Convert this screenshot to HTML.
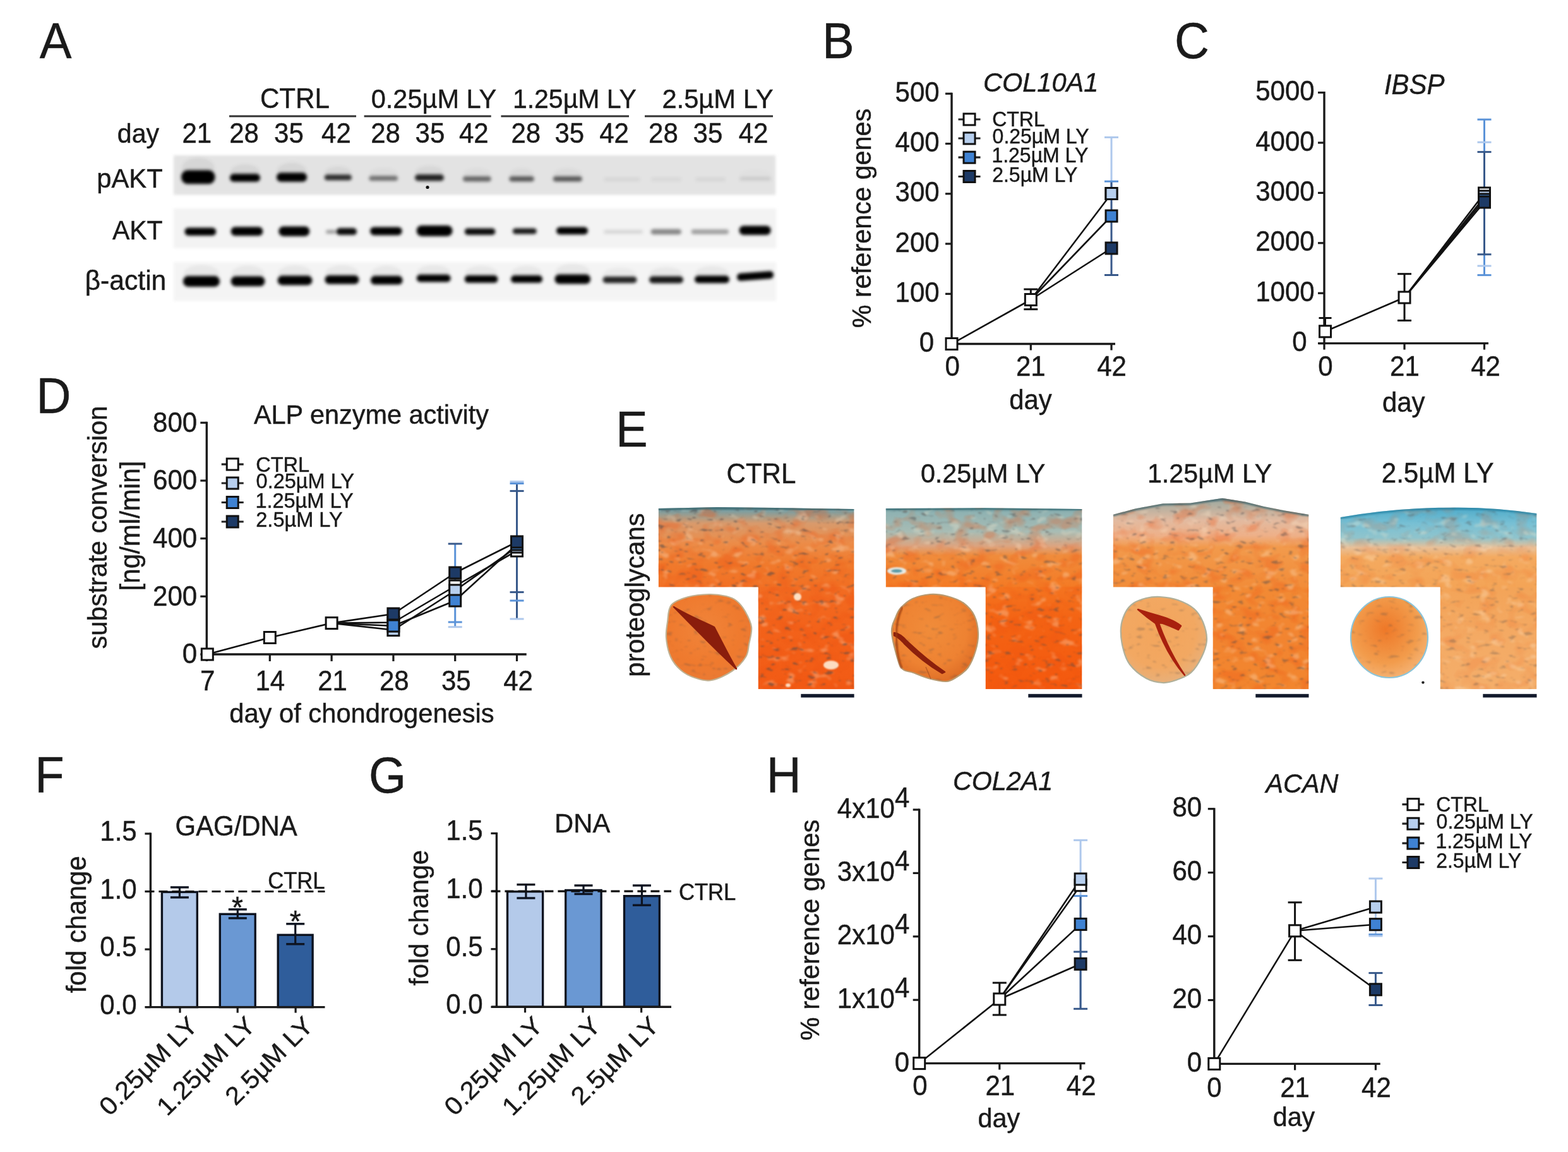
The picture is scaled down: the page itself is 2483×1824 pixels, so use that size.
<!DOCTYPE html>
<html><head><meta charset="utf-8"><title>Figure</title>
<style>html,body{margin:0;padding:0;background:#fff;}svg{display:block;} text{stroke:#1a1a1a;stroke-width:0.45px;}</style></head>
<body><svg width="2483" height="1824" viewBox="0 0 2483 1824" font-family='"Liberation Sans", Arial, sans-serif'>
<defs>
<filter id="bandblur" x="-20%" y="-60%" width="140%" height="220%"><feGaussianBlur stdDeviation="2.6"/></filter>
<filter id="stripblur" x="-5%" y="-20%" width="110%" height="140%"><feGaussianBlur stdDeviation="2"/></filter>
<filter id="specks" x="0" y="0" width="100%" height="100%" color-interpolation-filters="sRGB">
<feTurbulence type="fractalNoise" baseFrequency="0.075 0.16" numOctaves="2" seed="7" result="n"/>
<feColorMatrix in="n" type="matrix" values="0 0 0 0 0.32  0 0 0 0 0.30  0 0 0 0 0.30  -7 0 0 0 2.55"/>
<feGaussianBlur stdDeviation="1.1"/>
</filter>
<filter id="light" x="0" y="0" width="100%" height="100%" color-interpolation-filters="sRGB">
<feTurbulence type="fractalNoise" baseFrequency="0.05 0.08" numOctaves="2" seed="21" result="n"/>
<feColorMatrix in="n" type="matrix" values="0 0 0 0 1  0 0 0 0 0.93  0 0 0 0 0.82  6 0 0 0 -3.55"/>
<feGaussianBlur stdDeviation="1.5"/>
</filter>
<filter id="blotch" x="0" y="0" width="100%" height="100%" color-interpolation-filters="sRGB">
<feTurbulence type="fractalNoise" baseFrequency="0.035 0.05" numOctaves="2" seed="4" result="n"/>
<feColorMatrix in="n" type="matrix" values="0 0 0 0 0.93  0 0 0 0 0.33  0 0 0 0 0.08  4 0 0 0 -1.9"/>
</filter>
<filter id="soft"><feGaussianBlur stdDeviation="0.8"/></filter>
<linearGradient id="hg0" x1="0" y1="0" x2="0" y2="1"><stop offset="0" stop-color="#4f7f88"/><stop offset="0.05" stop-color="#7d9ea0"/><stop offset="0.2" stop-color="#d89a6c"/><stop offset="0.45" stop-color="#ec8c48"/><stop offset="0.7" stop-color="#f07a2c"/><stop offset="1" stop-color="#f27024"/></linearGradient>
<linearGradient id="hl0" x1="0" y1="0" x2="0" y2="1"><stop offset="0" stop-color="#f26c22"/><stop offset="0.4" stop-color="#f3621a"/><stop offset="1" stop-color="#f25a14"/></linearGradient>
<radialGradient id="hp0" cx="0.45" cy="0.4" r="0.6"><stop offset="0" stop-color="#f0843a"/><stop offset="0.7" stop-color="#ef7a2e"/><stop offset="1" stop-color="#ea7a34"/></radialGradient>
<clipPath id="hc0"><path d="M1042.6,929.5 L1042.6,805.0 L1135.6,803.0 L1228.6,804.0 L1352.6,806.0 L1352.6,1091.2 L1200.5,1091.2 L1200.5,929.5 Z"/></clipPath>
<linearGradient id="hg1" x1="0" y1="0" x2="0" y2="1"><stop offset="0" stop-color="#5f8f94"/><stop offset="0.06" stop-color="#8fb2b2"/><stop offset="0.3" stop-color="#a8bcb4"/><stop offset="0.48" stop-color="#dca480"/><stop offset="0.6" stop-color="#f08c3c"/><stop offset="1" stop-color="#f47a24"/></linearGradient>
<linearGradient id="hl1" x1="0" y1="0" x2="0" y2="1"><stop offset="0" stop-color="#f47420"/><stop offset="0.3" stop-color="#f46414"/><stop offset="1" stop-color="#f4580e"/></linearGradient>
<radialGradient id="hp1" cx="0.45" cy="0.4" r="0.6"><stop offset="0" stop-color="#f08c3a"/><stop offset="0.7" stop-color="#ee8232"/><stop offset="1" stop-color="#e07028"/></radialGradient>
<clipPath id="hc1"><path d="M1402.6,929.5 L1402.6,805.0 L1558.0,804.0 L1713.5,806.0 L1713.5,1091.2 L1560.5,1091.2 L1560.5,929.5 Z"/></clipPath>
<linearGradient id="hg2" x1="0" y1="0" x2="0" y2="1"><stop offset="0" stop-color="#587880"/><stop offset="0.05" stop-color="#a8aca0"/><stop offset="0.25" stop-color="#e2baa0"/><stop offset="0.42" stop-color="#eeb088"/><stop offset="0.55" stop-color="#f29a4c"/><stop offset="1" stop-color="#f28c38"/></linearGradient>
<linearGradient id="hl2" x1="0" y1="0" x2="0" y2="1"><stop offset="0" stop-color="#f28a34"/><stop offset="0.5" stop-color="#f28430"/><stop offset="1" stop-color="#f2862e"/></linearGradient>
<radialGradient id="hp2" cx="0.45" cy="0.4" r="0.6"><stop offset="0" stop-color="#f3a55c"/><stop offset="0.7" stop-color="#f2a862"/><stop offset="1" stop-color="#e8b07a"/></radialGradient>
<clipPath id="hc2"><path d="M1762.6,929.5 L1762.6,814.7 L1798.2,805.3 L1841.6,797.3 L1885.0,796.6 L1935.5,788.7 L1971.8,794.5 L2000.6,801.7 L2029.7,807.5 L2072.5,814.7 L2072.5,1091.2 L1920.5,1091.2 L1920.5,929.5 Z"/></clipPath>
<linearGradient id="hg3" x1="0" y1="0" x2="0" y2="1"><stop offset="0" stop-color="#3f98b8"/><stop offset="0.05" stop-color="#58b0cc"/><stop offset="0.2" stop-color="#78c0d4"/><stop offset="0.38" stop-color="#90c4cc"/><stop offset="0.5" stop-color="#e8c098"/><stop offset="0.62" stop-color="#f4aa60"/><stop offset="1" stop-color="#f4a456"/></linearGradient>
<linearGradient id="hl3" x1="0" y1="0" x2="0" y2="1"><stop offset="0" stop-color="#f3a458"/><stop offset="0.5" stop-color="#f4aa64"/><stop offset="1" stop-color="#f4ae6a"/></linearGradient>
<radialGradient id="hp3" cx="0.45" cy="0.4" r="0.6"><stop offset="0" stop-color="#ee7828"/><stop offset="0.7" stop-color="#f29c4c"/><stop offset="1" stop-color="#f4b070"/></radialGradient>
<clipPath id="hc3"><path d="M2122.6,929.5 L2122.6,819.0 L2153.7,814.0 L2184.8,810.0 L2215.9,807.0 L2247.0,805.0 L2278.1,803.8 L2309.1,803.6 L2340.2,804.2 L2371.3,806.0 L2402.4,809.0 L2433.5,813.0 L2433.5,1091.2 L2280.5,1091.2 L2280.5,929.5 Z"/></clipPath>
</defs>
<rect width="2483" height="1824" fill="#fff"/>
<g filter="url(#stripblur)">
<rect x="275" y="246" width="953" height="62.5" fill="#e3e3e3"/>
<rect x="275" y="330" width="954" height="63" fill="#f3f3f3"/>
<rect x="275" y="415" width="954" height="61.5" fill="#f4f4f4"/>
</g>
<g filter="url(#bandblur)"><ellipse cx="313.8" cy="265.9" rx="25.8" ry="16.4" fill="#000" fill-opacity="0.06"/><rect x="287.0" y="269.4" width="53.5" height="21.8" rx="10.3" fill="#050505" fill-opacity="1.0"/><ellipse cx="388.0" cy="271.8" rx="23.0" ry="11.7" fill="#000" fill-opacity="0.06"/><rect x="364.0" y="275.3" width="48.0" height="12.4" rx="6.0" fill="#050505" fill-opacity="1.0"/><ellipse cx="462.0" cy="270.1" rx="23.0" ry="12.6" fill="#000" fill-opacity="0.06"/><rect x="438.0" y="273.6" width="48.0" height="14.1" rx="6.8" fill="#050505" fill-opacity="1.0"/><ellipse cx="535.4" cy="273.0" rx="20.6" ry="10.0" fill="#000" fill-opacity="0.05"/><rect x="513.7" y="276.5" width="43.3" height="9.1" rx="4.5" fill="#050505" fill-opacity="0.8"/><ellipse cx="607.2" cy="275.1" rx="21.8" ry="9.3" fill="#000" fill-opacity="0.03"/><rect x="584.4" y="278.6" width="45.6" height="7.6" rx="3.9" fill="#050505" fill-opacity="0.5"/><ellipse cx="680.0" cy="272.8" rx="22.0" ry="10.6" fill="#000" fill-opacity="0.05"/><rect x="657.0" y="276.3" width="46.0" height="10.3" rx="5.1" fill="#050505" fill-opacity="0.85"/><ellipse cx="755.4" cy="275.8" rx="21.4" ry="9.6" fill="#000" fill-opacity="0.03"/><rect x="733.0" y="279.3" width="44.7" height="8.1" rx="4.1" fill="#050505" fill-opacity="0.55"/><ellipse cx="826.1" cy="275.8" rx="18.7" ry="9.6" fill="#000" fill-opacity="0.04"/><rect x="806.4" y="279.3" width="39.4" height="8.1" rx="4.1" fill="#050505" fill-opacity="0.6"/><ellipse cx="898.8" cy="275.8" rx="22.0" ry="9.6" fill="#000" fill-opacity="0.04"/><rect x="875.8" y="279.3" width="46.0" height="8.1" rx="4.1" fill="#050505" fill-opacity="0.6"/><ellipse cx="985.0" cy="277.4" rx="28.0" ry="8.6" fill="#000" fill-opacity="0.00"/><rect x="956.0" y="280.9" width="58.0" height="6.2" rx="3.2" fill="#050505" fill-opacity="0.06"/><ellipse cx="1055.0" cy="277.4" rx="23.0" ry="8.6" fill="#000" fill-opacity="0.00"/><rect x="1031.0" y="280.9" width="48.0" height="6.2" rx="3.2" fill="#050505" fill-opacity="0.05"/><ellipse cx="1125.0" cy="277.4" rx="23.0" ry="8.6" fill="#000" fill-opacity="0.00"/><rect x="1101.0" y="280.9" width="48.0" height="6.2" rx="3.2" fill="#050505" fill-opacity="0.06"/><ellipse cx="1196.0" cy="276.4" rx="24.0" ry="8.6" fill="#000" fill-opacity="0.01"/><rect x="1171.0" y="279.9" width="50.0" height="6.2" rx="3.2" fill="#050505" fill-opacity="0.1"/></g>
<g filter="url(#bandblur)"><rect x="292.4" y="360.4" width="49.8" height="12.7" rx="6.2" fill="#050505" fill-opacity="1"/><rect x="365.6" y="359.3" width="50.7" height="13.9" rx="6.7" fill="#050505" fill-opacity="1"/><rect x="441.3" y="358.6" width="49.0" height="15.3" rx="7.3" fill="#050505" fill-opacity="1"/><rect x="532.6" y="361.1" width="32.4" height="11.0" rx="5.4" fill="#050505" fill-opacity="0.95"/><rect x="586.0" y="359.5" width="50.7" height="12.9" rx="6.3" fill="#050505" fill-opacity="1"/><rect x="659.7" y="356.9" width="56.7" height="17.0" rx="8.1" fill="#050505" fill-opacity="1"/><rect x="735.7" y="361.6" width="48.7" height="10.3" rx="5.1" fill="#050505" fill-opacity="0.95"/><rect x="811.8" y="361.5" width="38.0" height="9.1" rx="4.5" fill="#050505" fill-opacity="0.9"/><rect x="881.0" y="359.5" width="50.0" height="11.7" rx="5.7" fill="#050505" fill-opacity="1"/><rect x="956.0" y="363.9" width="62.0" height="6.2" rx="3.2" fill="#050505" fill-opacity="0.12"/><rect x="1030.5" y="362.7" width="48.5" height="8.6" rx="4.3" fill="#050505" fill-opacity="0.45"/><rect x="1094.6" y="363.3" width="59.4" height="7.4" rx="3.8" fill="#050505" fill-opacity="0.35"/><rect x="1170.6" y="357.4" width="50.0" height="14.6" rx="7.0" fill="#050505" fill-opacity="1"/><rect x="516.0" y="363.9" width="16.0" height="6.2" rx="3.2" fill="#050505" fill-opacity="0.35"/></g>
<g filter="url(#bandblur)"><ellipse cx="318.9" cy="433.6" rx="28.1" ry="13.9" fill="#000" fill-opacity="0.05"/><rect x="289.9" y="437.1" width="58.1" height="16.8" rx="8.0" fill="#050505" fill-opacity="1"/><ellipse cx="392.6" cy="433.9" rx="25.9" ry="13.4" fill="#000" fill-opacity="0.05"/><rect x="365.6" y="437.4" width="53.9" height="15.8" rx="7.6" fill="#050505" fill-opacity="1"/><ellipse cx="467.0" cy="433.1" rx="26.4" ry="12.9" fill="#000" fill-opacity="0.05"/><rect x="439.6" y="436.6" width="54.8" height="14.8" rx="7.1" fill="#050505" fill-opacity="1"/><ellipse cx="541.5" cy="432.4" rx="25.9" ry="12.4" fill="#000" fill-opacity="0.05"/><rect x="514.5" y="435.9" width="53.9" height="13.9" rx="6.7" fill="#050505" fill-opacity="1"/><ellipse cx="612.2" cy="433.2" rx="24.2" ry="12.4" fill="#000" fill-opacity="0.05"/><rect x="587.0" y="436.7" width="50.5" height="13.9" rx="6.7" fill="#050505" fill-opacity="1"/><ellipse cx="686.7" cy="431.3" rx="26.0" ry="11.4" fill="#000" fill-opacity="0.05"/><rect x="659.7" y="434.8" width="54.0" height="11.7" rx="5.7" fill="#050505" fill-opacity="1"/><ellipse cx="762.0" cy="432.6" rx="25.3" ry="11.4" fill="#000" fill-opacity="0.05"/><rect x="735.7" y="436.1" width="52.7" height="11.7" rx="5.7" fill="#050505" fill-opacity="1"/><ellipse cx="834.0" cy="432.6" rx="24.0" ry="11.4" fill="#000" fill-opacity="0.05"/><rect x="809.0" y="436.1" width="50.0" height="11.7" rx="5.7" fill="#050505" fill-opacity="1"/><ellipse cx="906.8" cy="431.0" rx="27.2" ry="13.0" fill="#000" fill-opacity="0.05"/><rect x="878.5" y="434.5" width="56.5" height="15.1" rx="7.2" fill="#050505" fill-opacity="1"/><ellipse cx="981.5" cy="434.4" rx="26.0" ry="10.6" fill="#000" fill-opacity="0.04"/><rect x="954.5" y="437.9" width="54.0" height="10.3" rx="5.1" fill="#050505" fill-opacity="0.85"/><ellipse cx="1055.0" cy="434.1" rx="26.0" ry="10.9" fill="#000" fill-opacity="0.05"/><rect x="1028.0" y="437.6" width="54.0" height="10.8" rx="5.3" fill="#050505" fill-opacity="0.9"/><ellipse cx="1127.5" cy="433.0" rx="26.5" ry="11.4" fill="#000" fill-opacity="0.05"/><rect x="1100.0" y="436.5" width="55.0" height="11.7" rx="5.7" fill="#050505" fill-opacity="1"/></g>
<g filter="url(#bandblur)"><rect x="1167" y="431" width="58" height="12" rx="5.5" fill="#050505" transform="rotate(-4.5 1196 437)"/></g>
<circle cx="677" cy="296.5" r="2.6" fill="#111"/>
<text transform="translate(411.9,171.2) scale(1,1.04)" font-size="42.14" fill="#1a1a1a">CTRL</text>
<text transform="translate(587.7,170.9) scale(1,1.04)" font-size="41.52" fill="#1a1a1a">0.25µM LY</text>
<text transform="translate(811.9,170.6) scale(1,1.04)" font-size="40.99" fill="#1a1a1a">1.25µM LY</text>
<text transform="translate(1048.4,171.1) scale(1,1.04)" font-size="41.69" fill="#1a1a1a">2.5µM LY</text>
<line x1="363.0" y1="184.0" x2="564.0" y2="184.0" stroke="#333" stroke-width="3.2"/>
<line x1="576.6" y1="184.0" x2="777.7" y2="184.0" stroke="#333" stroke-width="3.2"/>
<line x1="793.4" y1="184.0" x2="996.0" y2="184.0" stroke="#333" stroke-width="3.2"/>
<line x1="1021.0" y1="184.0" x2="1224.0" y2="184.0" stroke="#333" stroke-width="3.2"/>
<text transform="translate(185.8,225.5) scale(1,1.04)" font-size="41.14" fill="#1a1a1a">day</text>
<text transform="translate(288.5,225.7) scale(1,1.04)" font-size="42.00" fill="#1a1a1a">21</text>
<text transform="translate(363.2,225.7) scale(1,1.04)" font-size="42.00" fill="#1a1a1a">28</text>
<text transform="translate(434.1,225.7) scale(1,1.04)" font-size="42.00" fill="#1a1a1a">35</text>
<text transform="translate(509.1,225.7) scale(1,1.04)" font-size="42.00" fill="#1a1a1a">42</text>
<text transform="translate(587.2,225.7) scale(1,1.04)" font-size="42.00" fill="#1a1a1a">28</text>
<text transform="translate(657.6,225.7) scale(1,1.04)" font-size="42.00" fill="#1a1a1a">35</text>
<text transform="translate(727.0,225.7) scale(1,1.04)" font-size="42.00" fill="#1a1a1a">42</text>
<text transform="translate(809.5,225.7) scale(1,1.04)" font-size="42.00" fill="#1a1a1a">28</text>
<text transform="translate(878.5,225.7) scale(1,1.04)" font-size="42.00" fill="#1a1a1a">35</text>
<text transform="translate(949.2,225.7) scale(1,1.04)" font-size="42.00" fill="#1a1a1a">42</text>
<text transform="translate(1027.1,225.7) scale(1,1.04)" font-size="42.00" fill="#1a1a1a">28</text>
<text transform="translate(1097.6,225.7) scale(1,1.04)" font-size="42.00" fill="#1a1a1a">35</text>
<text transform="translate(1169.7,225.7) scale(1,1.04)" font-size="42.00" fill="#1a1a1a">42</text>
<text transform="translate(153.3,297.2) scale(1,1.04)" font-size="41.71" fill="#1a1a1a">pAKT</text>
<text transform="translate(177.9,379.3) scale(1,1.04)" font-size="40.99" fill="#1a1a1a">AKT</text>
<text transform="translate(134.6,459.1) scale(1,1.04)" font-size="42.62" fill="#1a1a1a">β-actin</text>
<text transform="translate(1557.0,145.0) scale(1,1.04)" font-size="41.54" font-style="italic" fill="#1a1a1a">COL10A1</text>
<line x1="1507.0" y1="146.8" x2="1507.0" y2="546.0" stroke="#1a1a1a" stroke-width="3.4"/>
<line x1="1497.0" y1="148.3" x2="1507.0" y2="148.3" stroke="#1a1a1a" stroke-width="3.2"/>
<text transform="translate(1417.6,160.9) scale(1,1.04)" font-size="42.00" fill="#1a1a1a">500</text>
<line x1="1497.0" y1="227.5" x2="1507.0" y2="227.5" stroke="#1a1a1a" stroke-width="3.2"/>
<text transform="translate(1417.6,240.2) scale(1,1.04)" font-size="42.00" fill="#1a1a1a">400</text>
<line x1="1497.0" y1="306.8" x2="1507.0" y2="306.8" stroke="#1a1a1a" stroke-width="3.2"/>
<text transform="translate(1417.6,319.4) scale(1,1.04)" font-size="42.00" fill="#1a1a1a">300</text>
<line x1="1497.0" y1="386.0" x2="1507.0" y2="386.0" stroke="#1a1a1a" stroke-width="3.2"/>
<text transform="translate(1417.6,398.6) scale(1,1.04)" font-size="42.00" fill="#1a1a1a">200</text>
<line x1="1497.0" y1="465.3" x2="1507.0" y2="465.3" stroke="#1a1a1a" stroke-width="3.2"/>
<text transform="translate(1417.6,477.9) scale(1,1.04)" font-size="42.00" fill="#1a1a1a">100</text>
<line x1="1497.0" y1="544.5" x2="1507.0" y2="544.5" stroke="#1a1a1a" stroke-width="3.2"/>
<text transform="translate(1455.8,557.1) scale(1,1.04)" font-size="42.00" fill="#1a1a1a">0</text>
<line x1="1507.0" y1="544.5" x2="1766.0" y2="544.5" stroke="#1a1a1a" stroke-width="3.4"/>
<line x1="1632.3" y1="544.5" x2="1632.3" y2="554.5" stroke="#1a1a1a" stroke-width="3.2"/>
<text transform="translate(1608.9,595.0) scale(1,1.04)" font-size="42.00" fill="#1a1a1a">21</text>
<line x1="1760.0" y1="544.5" x2="1760.0" y2="554.5" stroke="#1a1a1a" stroke-width="3.2"/>
<text transform="translate(1737.2,595.0) scale(1,1.04)" font-size="42.00" fill="#1a1a1a">42</text>
<text transform="translate(1496.6,595.0) scale(1,1.04)" font-size="42.00" fill="#1a1a1a">0</text>
<text transform="translate(1598.2,647.9) scale(1,1.04)" font-size="41.84" fill="#1a1a1a">day</text>
<text font-size="41.43" fill="#1a1a1a" transform="translate(1379.2,519.3) rotate(-90) scale(1,1.04)">% reference genes</text>
<line x1="1760.0" y1="217.4" x2="1760.0" y2="306.0" stroke="#aec8ec" stroke-width="3.0"/><line x1="1749.0" y1="217.4" x2="1771.0" y2="217.4" stroke="#aec8ec" stroke-width="3.0"/>
<line x1="1760.0" y1="287.0" x2="1760.0" y2="435.5" stroke="#38598a" stroke-width="3.0"/>
<line x1="1749.0" y1="287.2" x2="1771.0" y2="287.2" stroke="#5b93d8" stroke-width="3.0"/>
<line x1="1749.0" y1="435.5" x2="1771.0" y2="435.5" stroke="#38598a" stroke-width="3.0"/>
<line x1="1632.3" y1="458.0" x2="1632.3" y2="489.7" stroke="#111" stroke-width="3.0"/>
<line x1="1621.3" y1="458.0" x2="1643.3" y2="458.0" stroke="#111" stroke-width="3.0"/>
<line x1="1621.3" y1="489.7" x2="1643.3" y2="489.7" stroke="#111" stroke-width="3.0"/>
<polyline points="1507.0,544.5 1632.3,474.5" fill="none" stroke="#111" stroke-width="2.6" stroke-linejoin="round"/>
<polyline points="1632.3,474.5 1760.0,306.5" fill="none" stroke="#111" stroke-width="2.6" stroke-linejoin="round"/>
<polyline points="1632.3,474.5 1760.0,342.0" fill="none" stroke="#111" stroke-width="2.6" stroke-linejoin="round"/>
<polyline points="1632.3,474.5 1760.0,393.0" fill="none" stroke="#111" stroke-width="2.6" stroke-linejoin="round"/>
<rect x="1498.0" y="535.5" width="18.0" height="18.0" fill="#ffffff" stroke="#111" stroke-width="3.0"/>
<rect x="1623.3" y="465.5" width="18.0" height="18.0" fill="#ffffff" stroke="#111" stroke-width="3.0"/>
<rect x="1751.0" y="297.5" width="18.0" height="18.0" fill="#ffffff" stroke="#111" stroke-width="3.0"/>
<rect x="1751.0" y="297.5" width="18.0" height="18.0" fill="#b7cfee" stroke="#111" stroke-width="3.0"/>
<rect x="1751.0" y="333.0" width="18.0" height="18.0" fill="#3f82d2" stroke="#111" stroke-width="3.0"/>
<rect x="1751.0" y="384.0" width="18.0" height="18.0" fill="#1d3a66" stroke="#111" stroke-width="3.0"/>
<line x1="1517.5" y1="189.0" x2="1552.5" y2="189.0" stroke="#222" stroke-width="3.2"/>
<rect x="1526.0" y="180.0" width="18.0" height="18.0" fill="#ffffff" stroke="#111" stroke-width="3.0"/>
<text transform="translate(1571.2,200.4) scale(1,1.04)" font-size="32.00" fill="#1a1a1a">CTRL</text>
<line x1="1517.5" y1="219.0" x2="1552.5" y2="219.0" stroke="#222" stroke-width="3.2"/>
<rect x="1526.0" y="210.0" width="18.0" height="18.0" fill="#b7cfee" stroke="#111" stroke-width="3.0"/>
<text transform="translate(1571.6,227.2) scale(1,1.04)" font-size="32.00" fill="#1a1a1a">0.25µM LY</text>
<line x1="1517.5" y1="249.2" x2="1552.5" y2="249.2" stroke="#222" stroke-width="3.2"/>
<rect x="1526.0" y="240.2" width="18.0" height="18.0" fill="#3f82d2" stroke="#111" stroke-width="3.0"/>
<text transform="translate(1570.4,257.4) scale(1,1.04)" font-size="32.00" fill="#1a1a1a">1.25µM LY</text>
<line x1="1517.5" y1="279.5" x2="1552.5" y2="279.5" stroke="#222" stroke-width="3.2"/>
<rect x="1526.0" y="270.5" width="18.0" height="18.0" fill="#1d3a66" stroke="#111" stroke-width="3.0"/>
<text transform="translate(1571.2,287.7) scale(1,1.04)" font-size="32.00" fill="#1a1a1a">2.5µM LY</text>
<text transform="translate(2191.9,148.8) scale(1,1.04)" font-size="41.96" font-style="italic" fill="#1a1a1a">IBSP</text>
<line x1="2097.0" y1="145.1" x2="2097.0" y2="545.1" stroke="#1a1a1a" stroke-width="3.4"/>
<line x1="2087.0" y1="146.6" x2="2097.0" y2="146.6" stroke="#1a1a1a" stroke-width="3.2"/>
<text transform="translate(1988.2,159.2) scale(1,1.04)" font-size="42.00" fill="#1a1a1a">5000</text>
<line x1="2087.0" y1="226.0" x2="2097.0" y2="226.0" stroke="#1a1a1a" stroke-width="3.2"/>
<text transform="translate(1988.2,238.6) scale(1,1.04)" font-size="42.00" fill="#1a1a1a">4000</text>
<line x1="2087.0" y1="305.4" x2="2097.0" y2="305.4" stroke="#1a1a1a" stroke-width="3.2"/>
<text transform="translate(1988.2,318.0) scale(1,1.04)" font-size="42.00" fill="#1a1a1a">3000</text>
<line x1="2087.0" y1="384.8" x2="2097.0" y2="384.8" stroke="#1a1a1a" stroke-width="3.2"/>
<text transform="translate(1988.2,397.4) scale(1,1.04)" font-size="42.00" fill="#1a1a1a">2000</text>
<line x1="2087.0" y1="464.2" x2="2097.0" y2="464.2" stroke="#1a1a1a" stroke-width="3.2"/>
<text transform="translate(1988.2,476.8) scale(1,1.04)" font-size="42.00" fill="#1a1a1a">1000</text>
<line x1="2087.0" y1="543.6" x2="2097.0" y2="543.6" stroke="#1a1a1a" stroke-width="3.2"/>
<text transform="translate(2046.3,556.2) scale(1,1.04)" font-size="42.00" fill="#1a1a1a">0</text>
<line x1="2088.0" y1="543.6" x2="2357.0" y2="543.6" stroke="#1a1a1a" stroke-width="3.4"/>
<line x1="2097.0" y1="543.6" x2="2097.0" y2="553.6" stroke="#1a1a1a" stroke-width="3.2"/>
<line x1="2224.0" y1="543.6" x2="2224.0" y2="553.6" stroke="#1a1a1a" stroke-width="3.2"/>
<line x1="2350.5" y1="543.6" x2="2350.5" y2="553.6" stroke="#1a1a1a" stroke-width="3.2"/>
<text transform="translate(2087.3,595.0) scale(1,1.04)" font-size="42.00" fill="#1a1a1a">0</text>
<text transform="translate(2201.1,595.0) scale(1,1.04)" font-size="42.00" fill="#1a1a1a">21</text>
<text transform="translate(2329.2,595.0) scale(1,1.04)" font-size="42.00" fill="#1a1a1a">42</text>
<text transform="translate(2189.0,651.9) scale(1,1.04)" font-size="41.90" fill="#1a1a1a">day</text>
<line x1="2350.5" y1="189.2" x2="2350.5" y2="435.6" stroke="#5b93d8" stroke-width="3.0"/>
<line x1="2339.5" y1="189.2" x2="2361.5" y2="189.2" stroke="#5b93d8" stroke-width="3.0"/>
<line x1="2339.5" y1="225.2" x2="2361.5" y2="225.2" stroke="#aec8ec" stroke-width="3.0"/>
<line x1="2339.5" y1="240.6" x2="2361.5" y2="240.6" stroke="#38598a" stroke-width="3.0"/>
<line x1="2350.5" y1="240.6" x2="2350.5" y2="402.8" stroke="#38598a" stroke-width="3.0"/>
<line x1="2339.5" y1="402.8" x2="2361.5" y2="402.8" stroke="#38598a" stroke-width="3.0"/>
<line x1="2339.5" y1="421.0" x2="2361.5" y2="421.0" stroke="#aec8ec" stroke-width="3.0"/>
<line x1="2339.5" y1="435.6" x2="2361.5" y2="435.6" stroke="#5b93d8" stroke-width="3.0"/>
<line x1="2098.5" y1="503.5" x2="2098.5" y2="524.8" stroke="#111" stroke-width="3.0"/>
<line x1="2088.5" y1="503.5" x2="2108.5" y2="503.5" stroke="#111" stroke-width="3.0"/>
<line x1="2224.0" y1="433.7" x2="2224.0" y2="507.5" stroke="#111" stroke-width="3.0"/>
<line x1="2213.0" y1="433.7" x2="2235.0" y2="433.7" stroke="#111" stroke-width="3.0"/>
<line x1="2213.0" y1="507.5" x2="2235.0" y2="507.5" stroke="#111" stroke-width="3.0"/>
<polyline points="2098.5,524.8 2224.0,471.0" fill="none" stroke="#111" stroke-width="2.6" stroke-linejoin="round"/>
<polyline points="2224.0,471.0 2350.5,306.0" fill="none" stroke="#111" stroke-width="2.6" stroke-linejoin="round"/>
<polyline points="2224.0,471.0 2350.5,312.0" fill="none" stroke="#111" stroke-width="2.6" stroke-linejoin="round"/>
<polyline points="2224.0,471.0 2350.5,316.0" fill="none" stroke="#111" stroke-width="2.6" stroke-linejoin="round"/>
<polyline points="2224.0,471.0 2350.5,320.0" fill="none" stroke="#111" stroke-width="2.6" stroke-linejoin="round"/>
<rect x="2089.5" y="515.8" width="18.0" height="18.0" fill="#ffffff" stroke="#111" stroke-width="3.0"/>
<rect x="2215.0" y="462.0" width="18.0" height="18.0" fill="#ffffff" stroke="#111" stroke-width="3.0"/>
<rect x="2341.5" y="297.0" width="18.0" height="18.0" fill="#ffffff" stroke="#111" stroke-width="3.0"/>
<rect x="2341.5" y="302.0" width="18.0" height="18.0" fill="#b7cfee" stroke="#111" stroke-width="3.0"/>
<rect x="2341.5" y="307.0" width="18.0" height="18.0" fill="#3f82d2" stroke="#111" stroke-width="3.0"/>
<rect x="2341.5" y="311.0" width="18.0" height="18.0" fill="#1d3a66" stroke="#111" stroke-width="3.0"/>
<text transform="translate(401.9,670.7) scale(1,1.04)" font-size="41.42" fill="#1a1a1a">ALP enzyme activity</text>
<line x1="327.3" y1="667.8" x2="327.3" y2="1037.5" stroke="#1a1a1a" stroke-width="3.4"/>
<line x1="317.3" y1="669.3" x2="327.3" y2="669.3" stroke="#1a1a1a" stroke-width="3.2"/>
<text transform="translate(242.1,683.7) scale(1,1.04)" font-size="42.00" fill="#1a1a1a">800</text>
<line x1="317.3" y1="761.0" x2="327.3" y2="761.0" stroke="#1a1a1a" stroke-width="3.2"/>
<text transform="translate(242.1,775.4) scale(1,1.04)" font-size="42.00" fill="#1a1a1a">600</text>
<line x1="317.3" y1="852.6" x2="327.3" y2="852.6" stroke="#1a1a1a" stroke-width="3.2"/>
<text transform="translate(242.1,867.1) scale(1,1.04)" font-size="42.00" fill="#1a1a1a">400</text>
<line x1="317.3" y1="944.3" x2="327.3" y2="944.3" stroke="#1a1a1a" stroke-width="3.2"/>
<text transform="translate(242.1,958.7) scale(1,1.04)" font-size="42.00" fill="#1a1a1a">200</text>
<line x1="317.3" y1="1036.0" x2="327.3" y2="1036.0" stroke="#1a1a1a" stroke-width="3.2"/>
<text transform="translate(288.8,1050.4) scale(1,1.04)" font-size="42.00" fill="#1a1a1a">0</text>
<line x1="327.3" y1="1036.0" x2="833.7" y2="1036.0" stroke="#1a1a1a" stroke-width="3.4"/>
<line x1="327.3" y1="1036.0" x2="327.3" y2="1047.0" stroke="#1a1a1a" stroke-width="3.2"/>
<text transform="translate(317.1,1092.6) scale(1,1.04)" font-size="42.00" fill="#1a1a1a">7</text>
<line x1="427.3" y1="1036.0" x2="427.3" y2="1047.0" stroke="#1a1a1a" stroke-width="3.2"/>
<text transform="translate(404.5,1092.6) scale(1,1.04)" font-size="42.00" fill="#1a1a1a">14</text>
<line x1="525.1" y1="1036.0" x2="525.1" y2="1047.0" stroke="#1a1a1a" stroke-width="3.2"/>
<text transform="translate(503.2,1093.0) scale(1,1.04)" font-size="42.00" fill="#1a1a1a">21</text>
<line x1="622.9" y1="1036.0" x2="622.9" y2="1047.0" stroke="#1a1a1a" stroke-width="3.2"/>
<text transform="translate(600.9,1093.0) scale(1,1.04)" font-size="42.00" fill="#1a1a1a">28</text>
<line x1="720.7" y1="1036.0" x2="720.7" y2="1047.0" stroke="#1a1a1a" stroke-width="3.2"/>
<text transform="translate(698.9,1093.0) scale(1,1.04)" font-size="42.00" fill="#1a1a1a">35</text>
<line x1="818.5" y1="1036.0" x2="818.5" y2="1047.0" stroke="#1a1a1a" stroke-width="3.2"/>
<text transform="translate(797.2,1093.0) scale(1,1.04)" font-size="42.00" fill="#1a1a1a">42</text>
<text transform="translate(363.2,1143.7) scale(1,1.04)" font-size="41.70" fill="#1a1a1a">day of chondrogenesis</text>
<text font-size="41.73" fill="#1a1a1a" transform="translate(169.1,1027.6) rotate(-90) scale(1,1.04)">substrate conversion</text>
<text font-size="42.08" fill="#1a1a1a" transform="translate(221.1,935.4) rotate(-90) scale(1,1.04)">[ng/ml/min]</text>
<line x1="720.7" y1="861.0" x2="720.7" y2="992.7" stroke="#5b93d8" stroke-width="3.0"/>
<line x1="709.7" y1="861.0" x2="731.7" y2="861.0" stroke="#38598a" stroke-width="3.0"/>
<line x1="709.7" y1="985.0" x2="731.7" y2="985.0" stroke="#5b93d8" stroke-width="3.0"/>
<line x1="709.7" y1="992.7" x2="731.7" y2="992.7" stroke="#aec8ec" stroke-width="3.0"/>
<line x1="818.5" y1="762.5" x2="818.5" y2="980.0" stroke="#38598a" stroke-width="3.0"/>
<line x1="807.5" y1="762.5" x2="829.5" y2="762.5" stroke="#aec8ec" stroke-width="3.0"/>
<line x1="807.5" y1="765.5" x2="829.5" y2="765.5" stroke="#5b93d8" stroke-width="3.0"/>
<line x1="807.5" y1="777.4" x2="829.5" y2="777.4" stroke="#38598a" stroke-width="3.0"/>
<line x1="807.5" y1="937.6" x2="829.5" y2="937.6" stroke="#38598a" stroke-width="3.0"/>
<line x1="807.5" y1="951.0" x2="829.5" y2="951.0" stroke="#5b93d8" stroke-width="3.0"/>
<line x1="807.5" y1="980.0" x2="829.5" y2="980.0" stroke="#aec8ec" stroke-width="3.0"/>
<polyline points="328.3,1036.0 427.3,1009.5 525.1,986.6" fill="none" stroke="#111" stroke-width="2.6" stroke-linejoin="round"/>
<polyline points="525.1,986.6 622.9,985.5 720.7,928.0 818.5,872.0" fill="none" stroke="#111" stroke-width="2.6" stroke-linejoin="round"/>
<polyline points="525.1,986.6 622.9,997.5 720.7,935.0 818.5,866.0" fill="none" stroke="#111" stroke-width="2.6" stroke-linejoin="round"/>
<polyline points="525.1,986.6 622.9,991.0 720.7,951.0 818.5,862.0" fill="none" stroke="#111" stroke-width="2.6" stroke-linejoin="round"/>
<polyline points="525.1,986.6 622.9,972.0 720.7,907.0 818.5,858.0" fill="none" stroke="#111" stroke-width="2.6" stroke-linejoin="round"/>
<rect x="319.3" y="1027.0" width="18.0" height="18.0" fill="#ffffff" stroke="#111" stroke-width="3.0"/>
<rect x="418.3" y="1000.5" width="18.0" height="18.0" fill="#ffffff" stroke="#111" stroke-width="3.0"/>
<rect x="516.1" y="977.6" width="18.0" height="18.0" fill="#ffffff" stroke="#111" stroke-width="3.0"/>
<rect x="613.9" y="976.5" width="18.0" height="18.0" fill="#ffffff" stroke="#111" stroke-width="3.0"/>
<rect x="613.9" y="988.5" width="18.0" height="18.0" fill="#b7cfee" stroke="#111" stroke-width="3.0"/>
<rect x="613.9" y="982.0" width="18.0" height="18.0" fill="#3f82d2" stroke="#111" stroke-width="3.0"/>
<rect x="613.9" y="963.0" width="18.0" height="18.0" fill="#1d3a66" stroke="#111" stroke-width="3.0"/>
<rect x="711.7" y="919.0" width="18.0" height="18.0" fill="#ffffff" stroke="#111" stroke-width="3.0"/>
<rect x="711.7" y="926.0" width="18.0" height="18.0" fill="#b7cfee" stroke="#111" stroke-width="3.0"/>
<rect x="711.7" y="942.0" width="18.0" height="18.0" fill="#3f82d2" stroke="#111" stroke-width="3.0"/>
<rect x="711.7" y="898.0" width="18.0" height="18.0" fill="#1d3a66" stroke="#111" stroke-width="3.0"/>
<rect x="809.5" y="863.0" width="18.0" height="18.0" fill="#ffffff" stroke="#111" stroke-width="3.0"/>
<rect x="809.5" y="857.0" width="18.0" height="18.0" fill="#b7cfee" stroke="#111" stroke-width="3.0"/>
<rect x="809.5" y="853.0" width="18.0" height="18.0" fill="#3f82d2" stroke="#111" stroke-width="3.0"/>
<rect x="809.5" y="849.0" width="18.0" height="18.0" fill="#1d3a66" stroke="#111" stroke-width="3.0"/>
<line x1="350.7" y1="735.1" x2="385.7" y2="735.1" stroke="#222" stroke-width="3.2"/>
<rect x="359.2" y="726.1" width="18.0" height="18.0" fill="#ffffff" stroke="#111" stroke-width="3.0"/>
<text transform="translate(405.2,746.7) scale(1,1.04)" font-size="32.50" fill="#1a1a1a">CTRL</text>
<line x1="350.7" y1="765.0" x2="385.7" y2="765.0" stroke="#222" stroke-width="3.2"/>
<rect x="359.2" y="756.0" width="18.0" height="18.0" fill="#b7cfee" stroke="#111" stroke-width="3.0"/>
<text transform="translate(405.6,773.3) scale(1,1.04)" font-size="32.50" fill="#1a1a1a">0.25µM LY</text>
<line x1="350.7" y1="795.5" x2="385.7" y2="795.5" stroke="#222" stroke-width="3.2"/>
<rect x="359.2" y="786.5" width="18.0" height="18.0" fill="#3f82d2" stroke="#111" stroke-width="3.0"/>
<text transform="translate(404.4,803.8) scale(1,1.04)" font-size="32.50" fill="#1a1a1a">1.25µM LY</text>
<line x1="350.7" y1="826.0" x2="385.7" y2="826.0" stroke="#222" stroke-width="3.2"/>
<rect x="359.2" y="817.0" width="18.0" height="18.0" fill="#1d3a66" stroke="#111" stroke-width="3.0"/>
<text transform="translate(405.3,834.3) scale(1,1.04)" font-size="32.50" fill="#1a1a1a">2.5µM LY</text>
<text font-size="41.63" fill="#1a1a1a" transform="translate(1020.1,1071.7) rotate(-90) scale(1,1.04)">proteoglycans</text>
<g clip-path="url(#hc0)">
<rect x="1042.6" y="803" width="310.0" height="127.0" fill="url(#hg0)"/>
<rect x="1200.5" y="929.5" width="152.1" height="161.7" fill="url(#hl0)"/>
<rect x="1042.6" y="803" width="310.0" height="288.2" filter="url(#blotch)" opacity="0.35"/>
<rect x="1042.6" y="803" width="310.0" height="288.2" filter="url(#light)" opacity="0.3"/>
<rect x="1042.6" y="803" width="310.0" height="288.2" filter="url(#specks)" opacity="0.55"/>
<polyline points="1042.6,806.2 1135.6,804.2 1228.6,805.2 1352.6,807.2" fill="none" stroke="#3e6a72" stroke-width="4" opacity="0.8" filter="url(#soft)"/>
</g>
<clipPath id="pc0"><path d="M1123,941 C1133.0,940.8 1142.8,942.3 1150,944 C1157.2,945.7 1161.0,947.0 1166,951 C1171.0,955.0 1176.0,961.0 1180,968 C1184.0,975.0 1189.0,984.3 1190,993 C1191.0,1001.7 1187.5,1012.2 1186,1020 C1184.5,1027.8 1185.3,1033.0 1181,1040 C1176.7,1047.0 1169.0,1055.8 1160,1062 C1151.0,1068.2 1137.0,1075.2 1127,1077 C1117.0,1078.8 1108.2,1075.7 1100,1073 C1091.8,1070.3 1084.3,1066.5 1078,1061 C1071.7,1055.5 1065.8,1048.5 1062,1040 C1058.2,1031.5 1055.8,1019.2 1055,1010 C1054.2,1000.8 1055.7,993.7 1057,985 C1058.3,976.3 1057.5,964.7 1063,958 C1068.5,951.3 1080.0,947.8 1090,945 C1100.0,942.2 1113.0,941.2 1123,941 Z"/></clipPath>
<path d="M1123,941 C1133.0,940.8 1142.8,942.3 1150,944 C1157.2,945.7 1161.0,947.0 1166,951 C1171.0,955.0 1176.0,961.0 1180,968 C1184.0,975.0 1189.0,984.3 1190,993 C1191.0,1001.7 1187.5,1012.2 1186,1020 C1184.5,1027.8 1185.3,1033.0 1181,1040 C1176.7,1047.0 1169.0,1055.8 1160,1062 C1151.0,1068.2 1137.0,1075.2 1127,1077 C1117.0,1078.8 1108.2,1075.7 1100,1073 C1091.8,1070.3 1084.3,1066.5 1078,1061 C1071.7,1055.5 1065.8,1048.5 1062,1040 C1058.2,1031.5 1055.8,1019.2 1055,1010 C1054.2,1000.8 1055.7,993.7 1057,985 C1058.3,976.3 1057.5,964.7 1063,958 C1068.5,951.3 1080.0,947.8 1090,945 C1100.0,942.2 1113.0,941.2 1123,941 Z" fill="url(#hp0)"/>
<g clip-path="url(#pc0)"><rect x="1050.5" y="936" width="144" height="146" filter="url(#specks)" opacity="0.25"/></g>
<path d="M1123,941 C1133.0,940.8 1142.8,942.3 1150,944 C1157.2,945.7 1161.0,947.0 1166,951 C1171.0,955.0 1176.0,961.0 1180,968 C1184.0,975.0 1189.0,984.3 1190,993 C1191.0,1001.7 1187.5,1012.2 1186,1020 C1184.5,1027.8 1185.3,1033.0 1181,1040 C1176.7,1047.0 1169.0,1055.8 1160,1062 C1151.0,1068.2 1137.0,1075.2 1127,1077 C1117.0,1078.8 1108.2,1075.7 1100,1073 C1091.8,1070.3 1084.3,1066.5 1078,1061 C1071.7,1055.5 1065.8,1048.5 1062,1040 C1058.2,1031.5 1055.8,1019.2 1055,1010 C1054.2,1000.8 1055.7,993.7 1057,985 C1058.3,976.3 1057.5,964.7 1063,958 C1068.5,951.3 1080.0,947.8 1090,945 C1100.0,942.2 1113.0,941.2 1123,941 Z" fill="none" stroke="#c0b090" stroke-width="2.2"/>
<path d="M1067,961 C1090,975 1115,985 1131,993 C1140,1010 1152,1035 1166,1059 C1140,1035 1110,1005 1067,961 Z" fill="#8a1d0c" stroke="#8a1d0c" stroke-width="2.5" stroke-linejoin="round"/>
<g filter="url(#soft)" fill="#fff4e0" opacity="0.85"><ellipse cx="1316" cy="1053" rx="12" ry="7"/><ellipse cx="1263" cy="945" rx="6" ry="6"/><ellipse cx="1248" cy="1085" rx="4" ry="3"/></g>
<rect x="1268.3" y="1098.8" width="84.3" height="5.6" fill="#131a2c"/>
<g clip-path="url(#hc1)">
<rect x="1402.6" y="804" width="310.9" height="126.0" fill="url(#hg1)"/>
<rect x="1560.5" y="929.5" width="153.0" height="161.7" fill="url(#hl1)"/>
<rect x="1402.6" y="804" width="310.9" height="287.2" filter="url(#blotch)" opacity="0.3"/>
<rect x="1402.6" y="804" width="310.9" height="287.2" filter="url(#light)" opacity="0.3"/>
<rect x="1402.6" y="804" width="310.9" height="287.2" filter="url(#specks)" opacity="0.45"/>
<polyline points="1402.6,806.2 1558.0,805.2 1713.5,807.2" fill="none" stroke="#3e7078" stroke-width="4" opacity="0.8" filter="url(#soft)"/>
</g>
<clipPath id="pc1"><path d="M1473,941 C1482.2,940.3 1491.2,941.7 1500,944 C1508.8,946.3 1518.8,949.8 1526,955 C1533.2,960.2 1539.2,967.0 1543,975 C1546.8,983.0 1548.7,993.8 1549,1003 C1549.3,1012.2 1547.7,1021.0 1545,1030 C1542.3,1039.0 1538.0,1050.0 1533,1057 C1528.0,1064.0 1520.8,1068.3 1515,1072 C1509.2,1075.7 1505.5,1078.7 1498,1079 C1490.5,1079.3 1478.7,1076.3 1470,1074 C1461.3,1071.7 1452.7,1067.3 1446,1065 C1439.3,1062.7 1434.0,1063.3 1430,1060 C1426.0,1056.7 1425.0,1054.8 1422,1045 C1419.0,1035.2 1412.7,1012.2 1412,1001 C1411.3,989.8 1415.7,984.3 1418,978 C1420.3,971.7 1421.5,968.0 1426,963 C1430.5,958.0 1437.2,951.7 1445,948 C1452.8,944.3 1463.8,941.7 1473,941 Z"/></clipPath>
<path d="M1473,941 C1482.2,940.3 1491.2,941.7 1500,944 C1508.8,946.3 1518.8,949.8 1526,955 C1533.2,960.2 1539.2,967.0 1543,975 C1546.8,983.0 1548.7,993.8 1549,1003 C1549.3,1012.2 1547.7,1021.0 1545,1030 C1542.3,1039.0 1538.0,1050.0 1533,1057 C1528.0,1064.0 1520.8,1068.3 1515,1072 C1509.2,1075.7 1505.5,1078.7 1498,1079 C1490.5,1079.3 1478.7,1076.3 1470,1074 C1461.3,1071.7 1452.7,1067.3 1446,1065 C1439.3,1062.7 1434.0,1063.3 1430,1060 C1426.0,1056.7 1425.0,1054.8 1422,1045 C1419.0,1035.2 1412.7,1012.2 1412,1001 C1411.3,989.8 1415.7,984.3 1418,978 C1420.3,971.7 1421.5,968.0 1426,963 C1430.5,958.0 1437.2,951.7 1445,948 C1452.8,944.3 1463.8,941.7 1473,941 Z" fill="url(#hp1)"/>
<g clip-path="url(#pc1)"><rect x="1406" y="935" width="148" height="148" filter="url(#specks)" opacity="0.25"/></g>
<path d="M1473,941 C1482.2,940.3 1491.2,941.7 1500,944 C1508.8,946.3 1518.8,949.8 1526,955 C1533.2,960.2 1539.2,967.0 1543,975 C1546.8,983.0 1548.7,993.8 1549,1003 C1549.3,1012.2 1547.7,1021.0 1545,1030 C1542.3,1039.0 1538.0,1050.0 1533,1057 C1528.0,1064.0 1520.8,1068.3 1515,1072 C1509.2,1075.7 1505.5,1078.7 1498,1079 C1490.5,1079.3 1478.7,1076.3 1470,1074 C1461.3,1071.7 1452.7,1067.3 1446,1065 C1439.3,1062.7 1434.0,1063.3 1430,1060 C1426.0,1056.7 1425.0,1054.8 1422,1045 C1419.0,1035.2 1412.7,1012.2 1412,1001 C1411.3,989.8 1415.7,984.3 1418,978 C1420.3,971.7 1421.5,968.0 1426,963 C1430.5,958.0 1437.2,951.7 1445,948 C1452.8,944.3 1463.8,941.7 1473,941 Z" fill="none" stroke="#b89a70" stroke-width="2.2"/>
<path d="M1416,1002 C1424,1003 1430,1008 1436,1015 C1455,1033 1475,1050 1496,1064 L1492,1066 C1470,1053 1450,1037 1432,1019 C1426,1012 1421,1008 1416,1006 Z" fill="#8c200c" stroke="#8c200c" stroke-width="2.5" stroke-linejoin="round"/>
<path d="M1429,961 C1420,980 1418,1000 1420,1020 C1421,1035 1424,1048 1428,1058" fill="none" stroke="#9a3a10" stroke-width="3" opacity="0.8" filter="url(#soft)"/>
<path d="M1466,1056 L1474,1075" stroke="#a04a20" stroke-width="1.5" opacity="0.6"/>
<g filter="url(#soft)"><ellipse cx="1420" cy="904" rx="15" ry="6" fill="#e8f4f4" opacity="0.9"/><ellipse cx="1420" cy="904" rx="9" ry="3" fill="#3a8a9a" opacity="0.8"/></g>
<rect x="1628.3" y="1098.8" width="85.2" height="5.6" fill="#131a2c"/>
<g clip-path="url(#hc2)">
<rect x="1762.6" y="788.7" width="309.9" height="141.3" fill="url(#hg2)"/>
<rect x="1920.5" y="929.5" width="152.0" height="161.7" fill="url(#hl2)"/>
<rect x="1762.6" y="788.7" width="309.9" height="302.5" filter="url(#blotch)" opacity="0.3"/>
<rect x="1762.6" y="788.7" width="309.9" height="302.5" filter="url(#light)" opacity="0.3"/>
<rect x="1762.6" y="788.7" width="309.9" height="302.5" filter="url(#specks)" opacity="0.45"/>
<polyline points="1762.6,815.9 1798.2,806.5 1841.6,798.5 1885.0,797.8 1935.5,789.9 1971.8,795.7 2000.6,802.9 2029.7,808.7 2072.5,815.9" fill="none" stroke="#4a6a70" stroke-width="4" opacity="0.8" filter="url(#soft)"/>
</g>
<clipPath id="pc2"><path d="M1837,945 C1845.3,945.5 1856.0,946.8 1865,950 C1874.0,953.2 1884.3,958.2 1891,964 C1897.7,969.8 1901.7,976.8 1905,985 C1908.3,993.2 1911.3,1003.8 1911,1013 C1910.7,1022.2 1907.2,1031.3 1903,1040 C1898.8,1048.7 1892.8,1058.8 1886,1065 C1879.2,1071.2 1869.5,1074.3 1862,1077 C1854.5,1079.7 1848.8,1081.5 1841,1081 C1833.2,1080.5 1823.7,1078.8 1815,1074 C1806.3,1069.2 1795.2,1060.2 1789,1052 C1782.8,1043.8 1780.3,1034.7 1778,1025 C1775.7,1015.3 1774.3,1003.2 1775,994 C1775.7,984.8 1778.7,976.5 1782,970 C1785.3,963.5 1789.5,958.8 1795,955 C1800.5,951.2 1808.0,948.7 1815,947 C1822.0,945.3 1828.7,944.5 1837,945 Z"/></clipPath>
<path d="M1837,945 C1845.3,945.5 1856.0,946.8 1865,950 C1874.0,953.2 1884.3,958.2 1891,964 C1897.7,969.8 1901.7,976.8 1905,985 C1908.3,993.2 1911.3,1003.8 1911,1013 C1910.7,1022.2 1907.2,1031.3 1903,1040 C1898.8,1048.7 1892.8,1058.8 1886,1065 C1879.2,1071.2 1869.5,1074.3 1862,1077 C1854.5,1079.7 1848.8,1081.5 1841,1081 C1833.2,1080.5 1823.7,1078.8 1815,1074 C1806.3,1069.2 1795.2,1060.2 1789,1052 C1782.8,1043.8 1780.3,1034.7 1778,1025 C1775.7,1015.3 1774.3,1003.2 1775,994 C1775.7,984.8 1778.7,976.5 1782,970 C1785.3,963.5 1789.5,958.8 1795,955 C1800.5,951.2 1808.0,948.7 1815,947 C1822.0,945.3 1828.7,944.5 1837,945 Z" fill="url(#hp2)"/>
<g clip-path="url(#pc2)"><rect x="1770" y="939.8" width="146" height="146" filter="url(#specks)" opacity="0.25"/></g>
<path d="M1837,945 C1845.3,945.5 1856.0,946.8 1865,950 C1874.0,953.2 1884.3,958.2 1891,964 C1897.7,969.8 1901.7,976.8 1905,985 C1908.3,993.2 1911.3,1003.8 1911,1013 C1910.7,1022.2 1907.2,1031.3 1903,1040 C1898.8,1048.7 1892.8,1058.8 1886,1065 C1879.2,1071.2 1869.5,1074.3 1862,1077 C1854.5,1079.7 1848.8,1081.5 1841,1081 C1833.2,1080.5 1823.7,1078.8 1815,1074 C1806.3,1069.2 1795.2,1060.2 1789,1052 C1782.8,1043.8 1780.3,1034.7 1778,1025 C1775.7,1015.3 1774.3,1003.2 1775,994 C1775.7,984.8 1778.7,976.5 1782,970 C1785.3,963.5 1789.5,958.8 1795,955 C1800.5,951.2 1808.0,948.7 1815,947 C1822.0,945.3 1828.7,944.5 1837,945 Z" fill="none" stroke="#b0b09a" stroke-width="2.2"/>
<path d="M1802,965 C1830,975 1855,978 1870,991 L1866,997 C1850,990 1840,985 1835,987 C1845,1015 1860,1045 1876,1069 C1855,1045 1840,1015 1830,987 C1820,980 1810,972 1802,965 Z" fill="#a8200e" stroke="#a8200e" stroke-width="2.5" stroke-linejoin="round"/>
<rect x="1988.3" y="1098.8" width="84.2" height="5.6" fill="#131a2c"/>
<g clip-path="url(#hc3)">
<rect x="2122.6" y="803.6" width="310.9" height="126.4" fill="url(#hg3)"/>
<rect x="2280.5" y="929.5" width="153.0" height="161.7" fill="url(#hl3)"/>
<rect x="2122.6" y="803.6" width="310.9" height="287.6" filter="url(#blotch)" opacity="0.15"/>
<rect x="2122.6" y="803.6" width="310.9" height="287.6" filter="url(#light)" opacity="0.3"/>
<rect x="2122.6" y="803.6" width="310.9" height="287.6" filter="url(#specks)" opacity="0.3"/>
<polyline points="2122.6,820.2 2153.7,815.2 2184.8,811.2 2215.9,808.2 2247.0,806.2 2278.1,805.0 2309.1,804.8 2340.2,805.4 2371.3,807.2 2402.4,810.2 2433.5,814.2" fill="none" stroke="#2f88a8" stroke-width="4" opacity="0.8" filter="url(#soft)"/>
</g>
<clipPath id="pc3"><path d="M2139,1009 A61,64 0 1,0 2261,1009 A61,64 0 1,0 2139,1009 Z"/></clipPath>
<path d="M2139,1009 A61,64 0 1,0 2261,1009 A61,64 0 1,0 2139,1009 Z" fill="url(#hp3)"/>
<g clip-path="url(#pc3)"><rect x="2134" y="940" width="132" height="138" filter="url(#specks)" opacity="0.25"/></g>
<path d="M2139,1009 A61,64 0 1,0 2261,1009 A61,64 0 1,0 2139,1009 Z" fill="none" stroke="#8cc4d8" stroke-width="2.2"/>
<circle cx="2253.4" cy="1080.6" r="2.2" fill="#222"/>
<rect x="2348.3" y="1098.8" width="85.2" height="5.6" fill="#131a2c"/>
<text transform="translate(277.6,1322.8) scale(1,1.04)" font-size="41.89" fill="#1a1a1a">GAG/DNA</text>
<text font-size="41.99" fill="#1a1a1a" transform="translate(136.0,1572.3) rotate(-90) scale(1,1.04)">fold change</text>
<rect x="256.4" y="1412.4" width="55.9" height="182.2" fill="#b4caea" stroke="#0d1320" stroke-width="3.4"/>
<rect x="348.3" y="1447.3" width="55.9" height="147.3" fill="#6a98d3" stroke="#0d1320" stroke-width="3.4"/>
<rect x="440.2" y="1480.3" width="54.9" height="114.3" fill="#2f5d9b" stroke="#0d1320" stroke-width="3.4"/>
<line x1="284.4" y1="1404.9" x2="284.4" y2="1420.9" stroke="#0d1320" stroke-width="3.2"/>
<line x1="269.9" y1="1404.9" x2="298.9" y2="1404.9" stroke="#0d1320" stroke-width="3.4"/>
<line x1="269.9" y1="1420.9" x2="298.9" y2="1420.9" stroke="#0d1320" stroke-width="3.4"/>
<line x1="376.3" y1="1439.9" x2="376.3" y2="1453.8" stroke="#0d1320" stroke-width="3.2"/>
<line x1="361.8" y1="1439.9" x2="390.8" y2="1439.9" stroke="#0d1320" stroke-width="3.4"/>
<line x1="361.8" y1="1453.8" x2="390.8" y2="1453.8" stroke="#0d1320" stroke-width="3.4"/>
<line x1="467.7" y1="1462.8" x2="467.7" y2="1494.8" stroke="#0d1320" stroke-width="3.2"/>
<line x1="453.2" y1="1462.8" x2="482.2" y2="1462.8" stroke="#0d1320" stroke-width="3.4"/>
<line x1="453.2" y1="1494.8" x2="482.2" y2="1494.8" stroke="#0d1320" stroke-width="3.4"/>
<line x1="238.4" y1="1318.5" x2="238.4" y2="1596.1" stroke="#1a1a1a" stroke-width="3.4"/>
<line x1="229.4" y1="1320.0" x2="238.4" y2="1320.0" stroke="#1a1a1a" stroke-width="3.2"/>
<text transform="translate(158.3,1330.8) scale(1,1.04)" font-size="42.00" fill="#1a1a1a">1.5</text>
<line x1="229.4" y1="1411.5" x2="238.4" y2="1411.5" stroke="#1a1a1a" stroke-width="3.2"/>
<text transform="translate(158.2,1422.6) scale(1,1.04)" font-size="42.00" fill="#1a1a1a">1.0</text>
<line x1="229.4" y1="1503.1" x2="238.4" y2="1503.1" stroke="#1a1a1a" stroke-width="3.2"/>
<text transform="translate(158.3,1514.1) scale(1,1.04)" font-size="42.00" fill="#1a1a1a">0.5</text>
<line x1="229.4" y1="1594.6" x2="238.4" y2="1594.6" stroke="#1a1a1a" stroke-width="3.2"/>
<text transform="translate(158.2,1605.6) scale(1,1.04)" font-size="42.00" fill="#1a1a1a">0.0</text>
<line x1="230.4" y1="1594.6" x2="514.5" y2="1594.6" stroke="#1a1a1a" stroke-width="3.4"/>
<line x1="285.0" y1="1594.6" x2="285.0" y2="1603.6" stroke="#1a1a1a" stroke-width="3.2"/>
<line x1="376.2" y1="1594.6" x2="376.2" y2="1603.6" stroke="#1a1a1a" stroke-width="3.2"/>
<line x1="468.1" y1="1594.6" x2="468.1" y2="1603.6" stroke="#1a1a1a" stroke-width="3.2"/>
<line x1="230.4" y1="1411.5" x2="514.5" y2="1411.5" stroke="#111" stroke-width="3.2" stroke-dasharray="14 7"/>
<text transform="translate(424.2,1406.6) scale(1,1.04)" font-size="34.63" fill="#1a1a1a">CTRL</text>
<text transform="translate(366.9,1453.0) scale(1,1.04)" font-size="46.00" fill="#1a1a1a">*</text>
<text transform="translate(458.8,1475.0) scale(1,1.04)" font-size="46.00" fill="#1a1a1a">*</text>
<text x="0" y="0" font-size="42" fill="#1a1a1a" text-anchor="end" transform="translate(315.5,1626.5) rotate(-45) scale(1,0.95)">0.25µM LY</text>
<text x="0" y="0" font-size="42" fill="#1a1a1a" text-anchor="end" transform="translate(406.7,1626.5) rotate(-45) scale(1,0.95)">1.25µM LY</text>
<text x="0" y="0" font-size="42" fill="#1a1a1a" text-anchor="end" transform="translate(498.6,1626.5) rotate(-45) scale(1,0.95)">2.5µM LY</text>
<text transform="translate(878.1,1317.9) scale(1,1.04)" font-size="41.74" fill="#1a1a1a">DNA</text>
<text font-size="41.52" fill="#1a1a1a" transform="translate(677.6,1560.6) rotate(-90) scale(1,1.04)">fold change</text>
<rect x="803.5" y="1411.7" width="56.1" height="182.6" fill="#b4caea" stroke="#0d1320" stroke-width="3.4"/>
<rect x="895.7" y="1409.5" width="56.4" height="184.8" fill="#6a98d3" stroke="#0d1320" stroke-width="3.4"/>
<rect x="988.5" y="1418.7" width="55.8" height="175.6" fill="#2f5d9b" stroke="#0d1320" stroke-width="3.4"/>
<line x1="832.9" y1="1400.6" x2="832.9" y2="1422.0" stroke="#0d1320" stroke-width="3.2"/>
<line x1="818.4" y1="1400.6" x2="847.4" y2="1400.6" stroke="#0d1320" stroke-width="3.4"/>
<line x1="818.4" y1="1422.0" x2="847.4" y2="1422.0" stroke="#0d1320" stroke-width="3.4"/>
<line x1="924.0" y1="1402.0" x2="924.0" y2="1415.5" stroke="#0d1320" stroke-width="3.2"/>
<line x1="909.5" y1="1402.0" x2="938.5" y2="1402.0" stroke="#0d1320" stroke-width="3.4"/>
<line x1="909.5" y1="1415.5" x2="938.5" y2="1415.5" stroke="#0d1320" stroke-width="3.4"/>
<line x1="1016.4" y1="1402.0" x2="1016.4" y2="1433.2" stroke="#0d1320" stroke-width="3.2"/>
<line x1="1001.9" y1="1402.0" x2="1030.9" y2="1402.0" stroke="#0d1320" stroke-width="3.4"/>
<line x1="1001.9" y1="1433.2" x2="1030.9" y2="1433.2" stroke="#0d1320" stroke-width="3.4"/>
<line x1="786.4" y1="1318.0" x2="786.4" y2="1595.8" stroke="#1a1a1a" stroke-width="3.4"/>
<line x1="777.4" y1="1319.5" x2="786.4" y2="1319.5" stroke="#1a1a1a" stroke-width="3.2"/>
<text transform="translate(706.3,1330.3) scale(1,1.04)" font-size="42.00" fill="#1a1a1a">1.5</text>
<line x1="777.4" y1="1411.1" x2="786.4" y2="1411.1" stroke="#1a1a1a" stroke-width="3.2"/>
<text transform="translate(706.2,1422.1) scale(1,1.04)" font-size="42.00" fill="#1a1a1a">1.0</text>
<line x1="777.4" y1="1502.7" x2="786.4" y2="1502.7" stroke="#1a1a1a" stroke-width="3.2"/>
<text transform="translate(706.3,1513.7) scale(1,1.04)" font-size="42.00" fill="#1a1a1a">0.5</text>
<line x1="777.4" y1="1594.3" x2="786.4" y2="1594.3" stroke="#1a1a1a" stroke-width="3.2"/>
<text transform="translate(706.2,1605.3) scale(1,1.04)" font-size="42.00" fill="#1a1a1a">0.0</text>
<line x1="778.4" y1="1594.3" x2="1063.0" y2="1594.3" stroke="#1a1a1a" stroke-width="3.4"/>
<line x1="831.5" y1="1594.3" x2="831.5" y2="1603.3" stroke="#1a1a1a" stroke-width="3.2"/>
<line x1="923.0" y1="1594.3" x2="923.0" y2="1603.3" stroke="#1a1a1a" stroke-width="3.2"/>
<line x1="1015.6" y1="1594.3" x2="1015.6" y2="1603.3" stroke="#1a1a1a" stroke-width="3.2"/>
<line x1="778.4" y1="1411.1" x2="1063.0" y2="1411.1" stroke="#111" stroke-width="3.2" stroke-dasharray="14 7"/>
<text transform="translate(1074.9,1425.4) scale(1,1.04)" font-size="34.63" fill="#1a1a1a">CTRL</text>
<text x="0" y="0" font-size="42" fill="#1a1a1a" text-anchor="end" transform="translate(862.0,1626.5) rotate(-45) scale(1,0.95)">0.25µM LY</text>
<text x="0" y="0" font-size="42" fill="#1a1a1a" text-anchor="end" transform="translate(953.5,1626.5) rotate(-45) scale(1,0.95)">1.25µM LY</text>
<text x="0" y="0" font-size="42" fill="#1a1a1a" text-anchor="end" transform="translate(1046.1,1626.5) rotate(-45) scale(1,0.95)">2.5µM LY</text>
<text transform="translate(1508.9,1251.2) scale(1,1.04)" font-size="41.27" font-style="italic" fill="#1a1a1a">COL2A1</text>
<line x1="1455.7" y1="1280.5" x2="1455.7" y2="1685.1" stroke="#1a1a1a" stroke-width="3.4"/>
<line x1="1445.7" y1="1683.6" x2="1455.7" y2="1683.6" stroke="#1a1a1a" stroke-width="3.2"/>
<text transform="translate(1416.8,1697.1) scale(1,1.04)" font-size="42.00" fill="#1a1a1a">0</text>
<line x1="1445.7" y1="1583.2" x2="1455.7" y2="1583.2" stroke="#1a1a1a" stroke-width="3.2"/>
<text transform="translate(1325.8,1595.7) scale(1,1.04)" font-size="42.00" fill="#1a1a1a">1x10</text>
<text transform="translate(1417.0,1578.8) scale(1,1.04)" font-size="42.00" fill="#1a1a1a">4</text>
<line x1="1445.7" y1="1482.8" x2="1455.7" y2="1482.8" stroke="#1a1a1a" stroke-width="3.2"/>
<text transform="translate(1325.8,1495.3) scale(1,1.04)" font-size="42.00" fill="#1a1a1a">2x10</text>
<text transform="translate(1417.0,1478.4) scale(1,1.04)" font-size="42.00" fill="#1a1a1a">4</text>
<line x1="1445.7" y1="1382.4" x2="1455.7" y2="1382.4" stroke="#1a1a1a" stroke-width="3.2"/>
<text transform="translate(1325.8,1394.9) scale(1,1.04)" font-size="42.00" fill="#1a1a1a">3x10</text>
<text transform="translate(1417.0,1378.0) scale(1,1.04)" font-size="42.00" fill="#1a1a1a">4</text>
<line x1="1445.7" y1="1282.0" x2="1455.7" y2="1282.0" stroke="#1a1a1a" stroke-width="3.2"/>
<text transform="translate(1325.8,1294.5) scale(1,1.04)" font-size="42.00" fill="#1a1a1a">4x10</text>
<text transform="translate(1417.0,1277.6) scale(1,1.04)" font-size="42.00" fill="#1a1a1a">4</text>
<line x1="1455.7" y1="1683.6" x2="1718.4" y2="1683.6" stroke="#1a1a1a" stroke-width="3.4"/>
<line x1="1455.7" y1="1683.6" x2="1455.7" y2="1693.6" stroke="#1a1a1a" stroke-width="3.2"/>
<line x1="1582.8" y1="1683.6" x2="1582.8" y2="1693.6" stroke="#1a1a1a" stroke-width="3.2"/>
<line x1="1711.1" y1="1683.6" x2="1711.1" y2="1693.6" stroke="#1a1a1a" stroke-width="3.2"/>
<text transform="translate(1445.3,1734.0) scale(1,1.04)" font-size="42.00" fill="#1a1a1a">0</text>
<text transform="translate(1560.4,1734.0) scale(1,1.04)" font-size="42.00" fill="#1a1a1a">21</text>
<text transform="translate(1688.8,1734.0) scale(1,1.04)" font-size="42.00" fill="#1a1a1a">42</text>
<text transform="translate(1548.5,1784.5) scale(1,1.04)" font-size="41.33" fill="#1a1a1a">day</text>
<text font-size="41.70" fill="#1a1a1a" transform="translate(1297.4,1647.5) rotate(-90) scale(1,1.04)">% reference genes</text>
<line x1="1711.1" y1="1330.3" x2="1711.1" y2="1597.3" stroke="#aec8ec" stroke-width="3.0"/>
<line x1="1700.1" y1="1330.3" x2="1722.1" y2="1330.3" stroke="#aec8ec" stroke-width="3.0"/>
<line x1="1711.1" y1="1418.6" x2="1711.1" y2="1597.3" stroke="#38598a" stroke-width="3.0"/>
<line x1="1700.1" y1="1418.6" x2="1722.1" y2="1418.6" stroke="#5b93d8" stroke-width="3.0"/>
<line x1="1700.1" y1="1507.0" x2="1722.1" y2="1507.0" stroke="#38598a" stroke-width="3.0"/>
<line x1="1700.1" y1="1597.3" x2="1722.1" y2="1597.3" stroke="#38598a" stroke-width="3.0"/>
<line x1="1582.8" y1="1556.1" x2="1582.8" y2="1607.0" stroke="#111" stroke-width="3.0"/>
<line x1="1571.8" y1="1556.1" x2="1593.8" y2="1556.1" stroke="#111" stroke-width="3.0"/>
<line x1="1571.8" y1="1607.0" x2="1593.8" y2="1607.0" stroke="#111" stroke-width="3.0"/>
<polyline points="1455.7,1683.6 1582.8,1582.0" fill="none" stroke="#111" stroke-width="2.6" stroke-linejoin="round"/>
<polyline points="1582.8,1582.0 1711.1,1401.7" fill="none" stroke="#111" stroke-width="2.6" stroke-linejoin="round"/>
<polyline points="1582.8,1582.0 1711.1,1392.0" fill="none" stroke="#111" stroke-width="2.6" stroke-linejoin="round"/>
<polyline points="1582.8,1582.0 1711.1,1463.4" fill="none" stroke="#111" stroke-width="2.6" stroke-linejoin="round"/>
<polyline points="1582.8,1582.0 1711.1,1526.3" fill="none" stroke="#111" stroke-width="2.6" stroke-linejoin="round"/>
<rect x="1446.7" y="1674.6" width="18.0" height="18.0" fill="#ffffff" stroke="#111" stroke-width="3.0"/>
<rect x="1573.8" y="1573.0" width="18.0" height="18.0" fill="#ffffff" stroke="#111" stroke-width="3.0"/>
<rect x="1702.1" y="1392.7" width="18.0" height="18.0" fill="#ffffff" stroke="#111" stroke-width="3.0"/>
<rect x="1702.1" y="1383.0" width="18.0" height="18.0" fill="#b7cfee" stroke="#111" stroke-width="3.0"/>
<rect x="1702.1" y="1454.4" width="18.0" height="18.0" fill="#3f82d2" stroke="#111" stroke-width="3.0"/>
<rect x="1702.1" y="1517.3" width="18.0" height="18.0" fill="#1d3a66" stroke="#111" stroke-width="3.0"/>
<text transform="translate(2004.5,1255.3) scale(1,1.04)" font-size="41.37" font-style="italic" fill="#1a1a1a">ACAN</text>
<line x1="1922.8" y1="1279.2" x2="1922.8" y2="1685.9" stroke="#1a1a1a" stroke-width="3.4"/>
<line x1="1912.8" y1="1280.7" x2="1922.8" y2="1280.7" stroke="#1a1a1a" stroke-width="3.2"/>
<text transform="translate(1856.4,1293.3) scale(1,1.04)" font-size="42.00" fill="#1a1a1a">80</text>
<line x1="1912.8" y1="1381.6" x2="1922.8" y2="1381.6" stroke="#1a1a1a" stroke-width="3.2"/>
<text transform="translate(1856.4,1394.3) scale(1,1.04)" font-size="42.00" fill="#1a1a1a">60</text>
<line x1="1912.8" y1="1482.6" x2="1922.8" y2="1482.6" stroke="#1a1a1a" stroke-width="3.2"/>
<text transform="translate(1856.4,1495.2) scale(1,1.04)" font-size="42.00" fill="#1a1a1a">40</text>
<line x1="1912.8" y1="1583.5" x2="1922.8" y2="1583.5" stroke="#1a1a1a" stroke-width="3.2"/>
<text transform="translate(1856.4,1596.1) scale(1,1.04)" font-size="42.00" fill="#1a1a1a">20</text>
<line x1="1912.8" y1="1684.4" x2="1922.8" y2="1684.4" stroke="#1a1a1a" stroke-width="3.2"/>
<text transform="translate(1879.8,1697.0) scale(1,1.04)" font-size="42.00" fill="#1a1a1a">0</text>
<line x1="1922.8" y1="1684.4" x2="2185.7" y2="1684.4" stroke="#1a1a1a" stroke-width="3.4"/>
<line x1="1922.8" y1="1684.4" x2="1922.8" y2="1694.4" stroke="#1a1a1a" stroke-width="3.2"/>
<line x1="2050.6" y1="1684.4" x2="2050.6" y2="1694.4" stroke="#1a1a1a" stroke-width="3.2"/>
<line x1="2178.4" y1="1684.4" x2="2178.4" y2="1694.4" stroke="#1a1a1a" stroke-width="3.2"/>
<text transform="translate(1911.3,1737.0) scale(1,1.04)" font-size="42.00" fill="#1a1a1a">0</text>
<text transform="translate(2027.2,1737.0) scale(1,1.04)" font-size="42.00" fill="#1a1a1a">21</text>
<text transform="translate(2156.1,1737.0) scale(1,1.04)" font-size="42.00" fill="#1a1a1a">42</text>
<text transform="translate(2015.7,1783.0) scale(1,1.04)" font-size="41.26" fill="#1a1a1a">day</text>
<line x1="2178.4" y1="1391.0" x2="2178.4" y2="1481.0" stroke="#aec8ec" stroke-width="3.0"/>
<line x1="2167.4" y1="1391.0" x2="2189.4" y2="1391.0" stroke="#aec8ec" stroke-width="3.0"/>
<line x1="2167.4" y1="1479.6" x2="2189.4" y2="1479.6" stroke="#5b93d8" stroke-width="3.0"/>
<line x1="2167.4" y1="1482.0" x2="2189.4" y2="1482.0" stroke="#aec8ec" stroke-width="3.0"/>
<line x1="2178.4" y1="1540.6" x2="2178.4" y2="1591.5" stroke="#38598a" stroke-width="3.0"/>
<line x1="2167.4" y1="1540.6" x2="2189.4" y2="1540.6" stroke="#38598a" stroke-width="3.0"/>
<line x1="2167.4" y1="1591.5" x2="2189.4" y2="1591.5" stroke="#38598a" stroke-width="3.0"/>
<line x1="2050.6" y1="1428.8" x2="2050.6" y2="1520.3" stroke="#111" stroke-width="3.0"/>
<line x1="2039.6" y1="1428.8" x2="2061.6" y2="1428.8" stroke="#111" stroke-width="3.0"/>
<line x1="2039.6" y1="1520.3" x2="2061.6" y2="1520.3" stroke="#111" stroke-width="3.0"/>
<polyline points="1922.8,1684.4 2050.6,1473.8" fill="none" stroke="#111" stroke-width="2.6" stroke-linejoin="round"/>
<polyline points="2050.6,1473.8 2178.4,1436.0" fill="none" stroke="#111" stroke-width="2.6" stroke-linejoin="round"/>
<polyline points="2050.6,1473.8 2178.4,1463.7" fill="none" stroke="#111" stroke-width="2.6" stroke-linejoin="round"/>
<polyline points="2050.6,1473.8 2178.4,1566.8" fill="none" stroke="#111" stroke-width="2.6" stroke-linejoin="round"/>
<rect x="1913.8" y="1675.4" width="18.0" height="18.0" fill="#ffffff" stroke="#111" stroke-width="3.0"/>
<rect x="2041.6" y="1464.8" width="18.0" height="18.0" fill="#ffffff" stroke="#111" stroke-width="3.0"/>
<rect x="2169.4" y="1427.0" width="18.0" height="18.0" fill="#b7cfee" stroke="#111" stroke-width="3.0"/>
<rect x="2169.4" y="1454.7" width="18.0" height="18.0" fill="#3f82d2" stroke="#111" stroke-width="3.0"/>
<rect x="2169.4" y="1557.8" width="18.0" height="18.0" fill="#1d3a66" stroke="#111" stroke-width="3.0"/>
<line x1="2220.4" y1="1273.7" x2="2255.4" y2="1273.7" stroke="#222" stroke-width="3.2"/>
<rect x="2228.9" y="1264.7" width="18.0" height="18.0" fill="#ffffff" stroke="#111" stroke-width="3.0"/>
<text transform="translate(2274.2,1285.1) scale(1,1.04)" font-size="32.00" fill="#1a1a1a">CTRL</text>
<line x1="2220.4" y1="1304.2" x2="2255.4" y2="1304.2" stroke="#222" stroke-width="3.2"/>
<rect x="2228.9" y="1295.2" width="18.0" height="18.0" fill="#b7cfee" stroke="#111" stroke-width="3.0"/>
<text transform="translate(2274.6,1312.4) scale(1,1.04)" font-size="32.00" fill="#1a1a1a">0.25µM LY</text>
<line x1="2220.4" y1="1335.1" x2="2255.4" y2="1335.1" stroke="#222" stroke-width="3.2"/>
<rect x="2228.9" y="1326.1" width="18.0" height="18.0" fill="#3f82d2" stroke="#111" stroke-width="3.0"/>
<text transform="translate(2273.4,1343.3) scale(1,1.04)" font-size="32.00" fill="#1a1a1a">1.25µM LY</text>
<line x1="2220.4" y1="1365.5" x2="2255.4" y2="1365.5" stroke="#222" stroke-width="3.2"/>
<rect x="2228.9" y="1356.5" width="18.0" height="18.0" fill="#1d3a66" stroke="#111" stroke-width="3.0"/>
<text transform="translate(2274.2,1373.7) scale(1,1.04)" font-size="32.00" fill="#1a1a1a">2.5µM LY</text>
<text transform="translate(62.7,91.6) scale(1,1.04)" font-size="76.00" fill="#1a1a1a">A</text>
<text transform="translate(1302.0,91.5) scale(1,1.04)" font-size="76.00" fill="#1a1a1a">B</text>
<text transform="translate(1860.1,91.7) scale(1,1.04)" font-size="76.00" fill="#1a1a1a">C</text>
<text transform="translate(57.4,653.7) scale(1,1.04)" font-size="76.00" fill="#1a1a1a">D</text>
<text transform="translate(975.1,706.7) scale(1,1.04)" font-size="76.00" fill="#1a1a1a">E</text>
<text transform="translate(55.2,1253.9) scale(1,1.04)" font-size="76.00" fill="#1a1a1a">F</text>
<text transform="translate(583.9,1254.5) scale(1,1.04)" font-size="76.00" fill="#1a1a1a">G</text>
<text transform="translate(1213.8,1254.4) scale(1,1.04)" font-size="76.00" fill="#1a1a1a">H</text>
<text transform="translate(1150.5,764.7) scale(1,1.04)" font-size="42.11" fill="#1a1a1a">CTRL</text>
<text transform="translate(1457.9,764.1) scale(1,1.04)" font-size="41.30" fill="#1a1a1a">0.25µM LY</text>
<text transform="translate(1816.9,763.9) scale(1,1.04)" font-size="41.31" fill="#1a1a1a">1.25µM LY</text>
<text transform="translate(2187.8,764.4) scale(1,1.04)" font-size="42.06" fill="#1a1a1a">2.5µM LY</text>
</svg></body></html>
